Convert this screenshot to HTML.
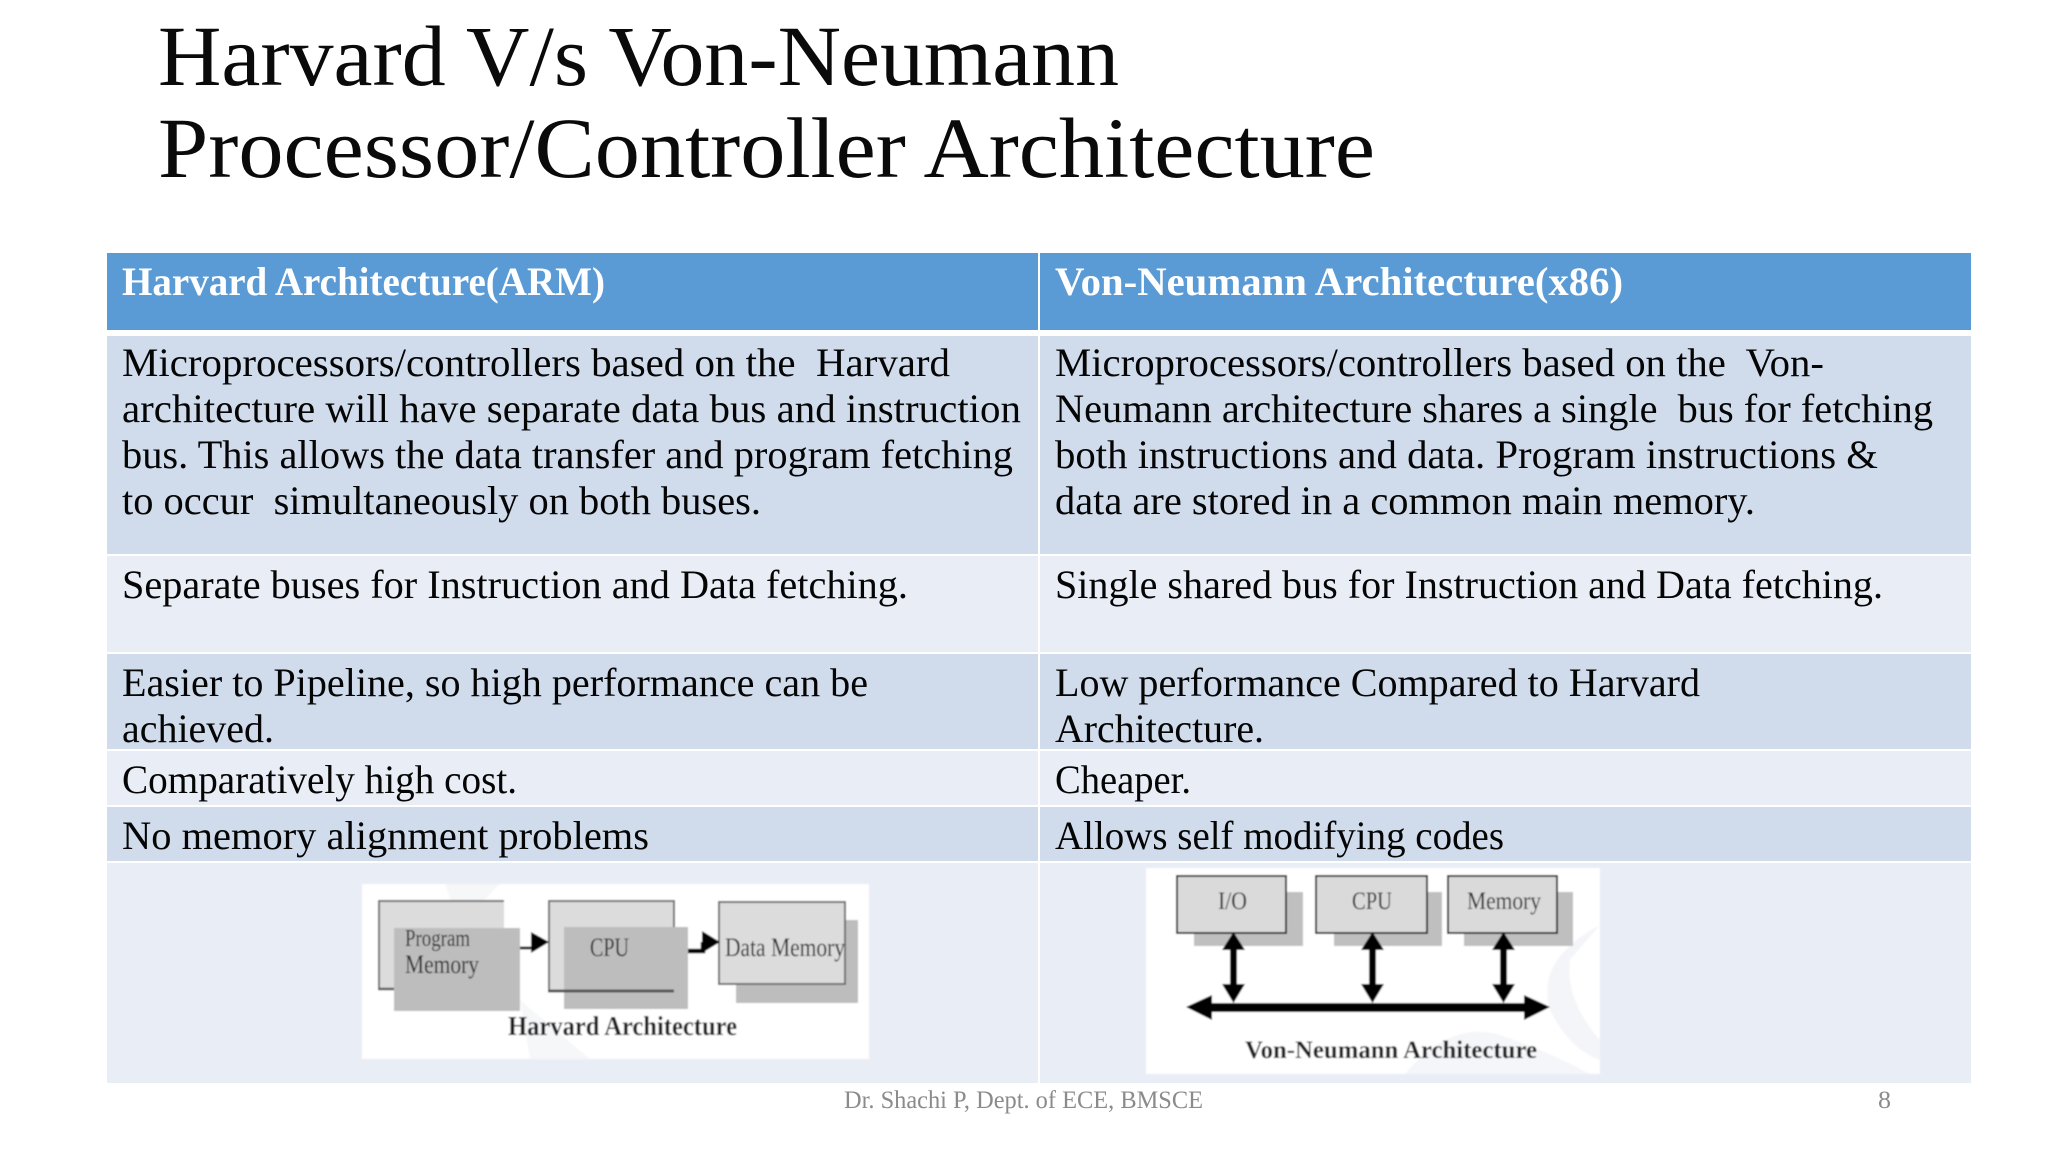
<!DOCTYPE html>
<html><head><meta charset="utf-8"><style>
html,body{margin:0;padding:0;background:#fff;width:2048px;height:1152px;overflow:hidden}
svg{display:block;position:absolute;left:0;top:0}
text{font-family:"Liberation Serif",serif;white-space:pre}
.t{font-size:40px;fill:#050505}
.h{font-size:40px;font-weight:bold;fill:#fff}
.ti{font-size:86px;fill:#0a0a0a}
.f{font-size:25px;fill:#8b8b8b}
.d{fill:#222;font-size:26px}
.db{fill:#1a1a1a;font-size:27px;font-weight:bold}
</style></head><body>
<svg width="2048" height="1152" viewBox="0 0 2048 1152" xmlns="http://www.w3.org/2000/svg">
<defs><filter id="b" x="-5%" y="-5%" width="110%" height="110%"><feGaussianBlur stdDeviation="0.7"/></filter></defs>
<rect width="2048" height="1152" fill="#fff"/>
<text class="ti" x="158" y="85" textLength="961" lengthAdjust="spacingAndGlyphs">Harvard V/s Von-Neumann</text>
<text class="ti" x="158" y="177" textLength="1217" lengthAdjust="spacingAndGlyphs">Processor/Controller Architecture</text>

<rect x="107" y="253" width="1864" height="77" fill="#5b9bd5"/>
<rect x="107" y="336" width="1864" height="218" fill="#d0dcec"/>
<rect x="107" y="556" width="1864" height="96" fill="#e9edf6"/>
<rect x="107" y="654" width="1864" height="95" fill="#d0dcec"/>
<rect x="107" y="751" width="1864" height="54" fill="#e9edf6"/>
<rect x="107" y="807" width="1864" height="54" fill="#d0dcec"/>
<rect x="107" y="863" width="1864" height="220" fill="#e9edf6"/>
<rect x="1038" y="253" width="2" height="830" fill="#fff"/>

<text class="h" x="122" y="295" textLength="483" lengthAdjust="spacingAndGlyphs">Harvard Architecture(ARM)</text>
<text class="h" x="1055" y="295" textLength="568" lengthAdjust="spacingAndGlyphs">Von-Neumann Architecture(x86)</text>

<text class="t" x="122" y="376" textLength="828" lengthAdjust="spacingAndGlyphs">Microprocessors/controllers based on the  Harvard</text>
<text class="t" x="122" y="422" textLength="899" lengthAdjust="spacingAndGlyphs">architecture will have separate data bus and instruction</text>
<text class="t" x="122" y="468" textLength="891" lengthAdjust="spacingAndGlyphs">bus. This allows the data transfer and program fetching</text>
<text class="t" x="122" y="514" textLength="639" lengthAdjust="spacingAndGlyphs">to occur  simultaneously on both buses.</text>

<text class="t" x="1055" y="376" textLength="769" lengthAdjust="spacingAndGlyphs">Microprocessors/controllers based on the  Von-</text>
<text class="t" x="1055" y="422" textLength="878" lengthAdjust="spacingAndGlyphs">Neumann architecture shares a single  bus for fetching</text>
<text class="t" x="1055" y="468" textLength="823" lengthAdjust="spacingAndGlyphs">both instructions and data. Program instructions &amp;</text>
<text class="t" x="1055" y="514" textLength="700" lengthAdjust="spacingAndGlyphs">data are stored in a common main memory.</text>

<text class="t" x="122" y="598" textLength="786" lengthAdjust="spacingAndGlyphs">Separate buses for Instruction and Data fetching.</text>
<text class="t" x="1055" y="598" textLength="828" lengthAdjust="spacingAndGlyphs">Single shared bus for Instruction and Data fetching.</text>

<text class="t" x="122" y="696" textLength="746" lengthAdjust="spacingAndGlyphs">Easier to Pipeline, so high performance can be</text>
<text class="t" x="122" y="742" textLength="152" lengthAdjust="spacingAndGlyphs">achieved.</text>
<text class="t" x="1055" y="696" textLength="645" lengthAdjust="spacingAndGlyphs">Low performance Compared to Harvard</text>
<text class="t" x="1055" y="742" textLength="209" lengthAdjust="spacingAndGlyphs">Architecture.</text>

<text class="t" x="122" y="793" textLength="395" lengthAdjust="spacingAndGlyphs">Comparatively high cost.</text>
<text class="t" x="1055" y="793" textLength="136" lengthAdjust="spacingAndGlyphs">Cheaper.</text>

<text class="t" x="122" y="849" textLength="527" lengthAdjust="spacingAndGlyphs">No memory alignment problems</text>
<text class="t" x="1055" y="849" textLength="449" lengthAdjust="spacingAndGlyphs">Allows self modifying codes</text>

<!-- Harvard diagram -->
<g filter="url(#b)">
<rect x="362" y="884" width="507" height="175" fill="#fff"/>
<path d="M445 884 L500 884 L460 925 Z M520 1000 L590 1059 L530 1059 Z" fill="#f6f7f9"/>
<path d="M379 989 V901 H504 V928 H394 V989 Z" fill="#dcdcdc"/>
<path d="M379 989 V901 H504" fill="none" stroke="#707070" stroke-width="2"/>
<rect x="394" y="928" width="126" height="83" fill="#bdbdbd"/>
<line x1="378" y1="989" x2="394" y2="989" stroke="#5a5a5a" stroke-width="2.5"/>
<rect x="549" y="901" width="125" height="90" fill="#dcdcdc"/>
<path d="M549 991 V901 H674 V927" fill="none" stroke="#707070" stroke-width="2"/>
<rect x="564" y="927" width="124" height="82" fill="#bdbdbd"/>
<line x1="548" y1="991" x2="674" y2="991" stroke="#555" stroke-width="3"/>
<rect x="736" y="920" width="122" height="83" fill="#bdbdbd"/>
<rect x="719" y="902" width="126" height="82" fill="#dcdcdc" stroke="#707070" stroke-width="2"/>
<path d="M520 948 H536" stroke="#222" stroke-width="3" fill="none"/>
<path d="M531 932 L549 942 L531 953 Z" fill="#000"/>
<path d="M688 951 H703 V942" stroke="#000" stroke-width="4.5" fill="none"/>
<path d="M702 931 L720 942 L702 953 Z" fill="#000"/>
<text class="d" x="405" y="946" textLength="65" lengthAdjust="spacingAndGlyphs" style="font-size:24px">Program</text>
<text class="d" x="405" y="973" textLength="74" lengthAdjust="spacingAndGlyphs">Memory</text>
<text class="d" x="590" y="956" textLength="39" lengthAdjust="spacingAndGlyphs">CPU</text>
<text class="d" x="725" y="956" textLength="120" lengthAdjust="spacingAndGlyphs">Data Memory</text>
<text class="db" x="508" y="1035" textLength="229" lengthAdjust="spacingAndGlyphs">Harvard Architecture</text>
</g>

<!-- Von-Neumann diagram -->
<g filter="url(#b)">
<rect x="1146" y="868" width="454" height="206" fill="#fff"/>
<path d="M1600 925 Q1535 960 1550 1010 Q1570 1050 1600 1060 L1600 1040 Q1565 1000 1570 960 Z" fill="#f4f5f8"/>
<path d="M1405 1074 Q1450 1020 1500 1035 Q1545 1050 1590 1074 Z" fill="#f5f6f9"/>
<rect x="1194" y="892" width="109" height="54" fill="#bfbfbf"/>
<rect x="1334" y="892" width="108" height="54" fill="#bfbfbf"/>
<rect x="1464" y="892" width="109" height="54" fill="#bfbfbf"/>
<rect x="1177" y="876" width="109" height="57" fill="#dadada" stroke="#111" stroke-width="1.8"/>
<rect x="1316" y="876" width="111" height="57" fill="#dadada" stroke="#111" stroke-width="1.8"/>
<rect x="1448" y="876" width="109" height="57" fill="#dadada" stroke="#111" stroke-width="1.8"/>
<g fill="#000" stroke="none">
<rect x="1230" y="945" width="7" height="45"/><path d="M1233.5 932 L1222 950 L1245 950 Z M1233.5 1003 L1222 984 L1245 984 Z"/>
<rect x="1369" y="945" width="7" height="45"/><path d="M1372.5 932 L1361 950 L1384 950 Z M1372.5 1003 L1361 984 L1384 984 Z"/>
<rect x="1500" y="945" width="7" height="45"/><path d="M1503.5 932 L1492 950 L1515 950 Z M1503.5 1003 L1492 984 L1515 984 Z"/>
<rect x="1200" y="1003" width="336" height="9"/>
<path d="M1186 1007 L1212 995 L1212 1020 Z M1550 1007 L1524 995 L1524 1020 Z"/>
</g>
<text class="d" x="1218" y="909" textLength="29" lengthAdjust="spacingAndGlyphs" style="font-size:25px">I/O</text>
<text class="d" x="1352" y="909" textLength="40" lengthAdjust="spacingAndGlyphs" style="font-size:25px">CPU</text>
<text class="d" x="1467" y="909" textLength="74" lengthAdjust="spacingAndGlyphs" style="font-size:25px">Memory</text>
<text class="db" x="1245" y="1058" textLength="292" lengthAdjust="spacingAndGlyphs" style="font-size:25px">Von-Neumann Architecture</text>
</g>

<text class="f" x="844" y="1108" textLength="359" lengthAdjust="spacingAndGlyphs">Dr. Shachi P, Dept. of ECE, BMSCE</text>
<text class="f" x="1878" y="1108" textLength="13" lengthAdjust="spacingAndGlyphs">8</text>
</svg>
</body></html>
